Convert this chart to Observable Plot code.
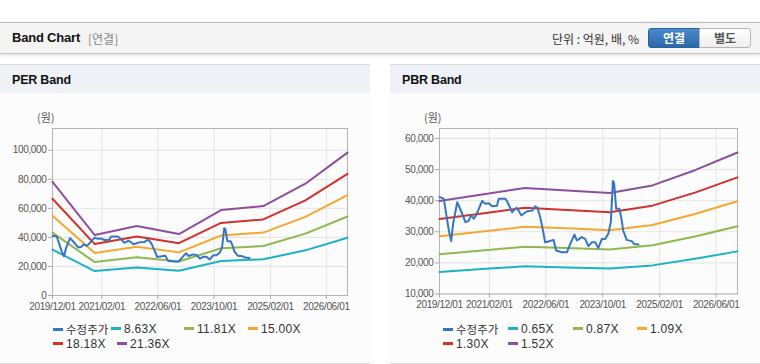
<!DOCTYPE html>
<html><head><meta charset="utf-8">
<script src="https://cdn.jsdelivr.net/npm/d3@7"></script>
<script src="https://cdn.jsdelivr.net/npm/@observablehq/plot@0.6"></script>
<style>
body{margin:0;width:760px;height:364px;position:relative;background:#fff;font-family:"Liberation Sans",Arial,"Noto Sans CJK KR",sans-serif;overflow:hidden}
.abs{position:absolute}
#hdr{left:0;top:22px;width:760px;height:30px;background:#f4f4f4;border-top:1px solid #b8b8b8;border-bottom:1px solid #c8c8c8;box-shadow:0 1px 3px rgba(0,0,0,.15)}
.ttl{font-weight:bold;font-size:13px;color:#111;letter-spacing:-0.2px;line-height:16px}
.panel{top:64px;width:370px;height:298px;border-top:1px solid #d9d9d9;border-bottom:1px solid #d9d9d9;background:#fcfcfc}
.pbar{left:0;top:0;width:100%;height:28px;background:#eef2f7}
.btn{top:28px;height:18px;width:50px;font-size:12px;font-weight:bold;text-align:center;line-height:18px;font-family:"Noto Sans CJK KR",sans-serif}
.unit{font-size:12px;color:#333;font-family:"Noto Sans CJK KR",sans-serif;line-height:16px}
.lg{font-size:12px;color:#333;line-height:14px;white-space:nowrap;letter-spacing:0.3px}
.lg .sw{display:inline-block;width:10px;height:3px;vertical-align:middle;margin-right:3px;position:relative;top:-1px}
.lg .ko{font-family:"Noto Sans CJK KR",sans-serif;font-size:11.5px;letter-spacing:0}
.ylab{font-size:11px;color:#555;font-family:"Noto Sans CJK KR",sans-serif;line-height:12px}
svg text{letter-spacing:-0.35px}
</style></head>
<body>
<div id="hdr" class="abs"></div>
<div class="abs ttl" style="left:12px;top:30px">Band Chart</div>
<div class="abs" style="left:88px;top:31px;font-size:12px;color:#888;line-height:16px;font-family:'Noto Sans CJK KR',sans-serif">[연결]</div>
<div class="abs unit" style="left:552px;top:31px">단위 : 억원, 배, %</div>
<div class="abs btn" style="left:648px;background:linear-gradient(#4a89cc,#2c67ab);border:1px solid #2a5f9c;border-radius:3px 0 0 3px;color:#fff">연결</div>
<div class="abs btn" style="left:699px;background:linear-gradient(#fff,#eee);border:1px solid #b5b5b5;border-radius:0 3px 3px 0;color:#555">별도</div>

<div class="abs panel" style="left:0"><div class="abs pbar"></div><div class="abs ttl" style="left:12px;top:7px;font-size:12.5px">PER Band</div></div>
<div class="abs panel" style="left:390px"><div class="abs pbar"></div><div class="abs ttl" style="left:12px;top:7px;font-size:12.5px">PBR Band</div></div>

<div class="abs ylab" style="left:37px;top:111px">(원)</div>
<div class="abs ylab" style="left:424px;top:111px">(원)</div>

<div id="c1" class="abs" style="left:0;top:100px"></div>
<div id="c2" class="abs" style="left:390px;top:100px"></div>
<div id="lg1"></div><div id="lg2"></div>

<script>
// ---- data ----
const xTickLabels = ["2019-12-01","2021-02-01","2022-06-01","2023-10-01","2025-02-01","2026-06-01"];
const bandDates = ["2019-12-01","2020-12-01","2021-12-01","2022-12-01","2023-12-01","2024-12-01","2025-12-01","2026-12-01"];

const perNames = ["8.63X","11.81X","15.00X","18.18X","21.36X"];
const per863  = [31600,16800,19300,17100,23800,24900,31100,39800];
const per1181 = [43300,23000,26400,23400,32500,34100,42600,54400];
const per1500 = [55000,29200,33600,29700,41300,43300,54100,69100];
const per1818 = [66600,35400,40700,36000,50000,52400,65500,83800];
const per2136 = [78300,41600,47800,42300,58800,61600,77000,98400];
const perYTicks = [0,20000,40000,60000,80000,100000];

const pbrNames = ["0.65X","0.87X","1.09X","1.30X","1.52X"];
const pbr065 = [17100,18000,18900,18500,18200,19200,21300,23700];
const pbr087 = [22800,24000,25200,24800,24300,25700,28500,31800];
const pbr109 = [28600,30100,31600,31100,30500,32200,35700,39800];
const pbr130 = [34100,35900,37700,37000,36300,38400,42600,47500];
const pbr152 = [39900,42000,44100,43300,42500,44900,49800,55500];
const pbrYTicks = [10000,20000,30000,40000,50000,60000];

const priceName = "수정주가";
const priceDates = ["2019-12-01","2020-01-07","2020-02-01","2020-02-19","2020-03-10","2020-03-27","2020-05-01","2020-06-13","2020-07-10","2020-08-07","2020-08-28","2020-09-20","2020-10-10","2020-11-02","2020-12-01","2020-12-28","2021-01-27","2021-02-25","2021-04-07","2021-04-22","2021-06-19","2021-07-07","2021-08-15","2021-08-28","2021-09-21","2021-10-10","2021-11-01","2021-11-22","2021-12-22","2022-02-03","2022-03-01","2022-03-21","2022-04-13","2022-05-07","2022-05-25","2022-06-22","2022-08-05","2022-08-28","2022-10-16","2022-11-28","2022-12-27","2023-02-01","2023-02-22","2023-04-04","2023-05-04","2023-06-01","2023-06-30","2023-07-28","2023-08-25","2023-09-24","2023-10-22","2023-11-19","2023-12-10","2023-12-28","2024-01-07","2024-01-25","2024-02-22","2024-03-13","2024-03-25","2024-04-24","2024-06-06","2024-06-26","2024-08-03"];
const priceVals = [41200,40600,34700,30400,27000,32600,39500,35800,33100,33500,35300,34200,35300,37400,39900,39000,39200,38200,38400,40600,40600,39500,36300,36800,37700,36800,35300,35800,36600,36800,38200,37700,34700,30400,26600,26900,27400,24000,23400,23400,26100,29100,27200,28300,27700,25400,26600,26600,24800,27700,27700,29400,33100,46300,45700,37400,37400,33600,30400,27400,27000,26100,25900];

// ---- styling ----
const colors = ["#1db1c6","#8fb84f","#f5a731","#d3302c","#8d4f9d"];
const priceColor = "#3575c4";

const price = priceDates.map((d,i)=>({date:new Date(d), value:priceVals[i]}));
const xTicks = xTickLabels.map(d=>new Date(d));

function chart(series, yDomain, yTicks, ml, mr, mb){
  return Plot.plot({
    width:370, height:215, marginTop:28, marginBottom:mb, marginLeft:ml, marginRight:mr,
    style:{background:"transparent", fontFamily:"Liberation Sans, Arial, sans-serif", fontSize:"10px", color:"#555", overflow:"visible"},
    x:{type:"utc", domain:[new Date(bandDates[0]), new Date(bandDates[bandDates.length-1])]},
    y:{domain:yDomain},
    marks:[
      Plot.gridX(xTicks,{stroke:"#e4e4e4", strokeOpacity:1}),
      Plot.gridY(yTicks,{stroke:"#e4e4e4", strokeOpacity:1}),
      Plot.frame({stroke:"#b4b4b4"}),
      Plot.axisX(xTicks,{tickFormat:d3.utcFormat("%Y/%m/%d"), tickSize:4, tickPadding:3, stroke:"#a8a8a8", fill:"#555", label:null}),
      Plot.axisY(yTicks,{tickFormat:d3.format(","), tickSize:4, tickPadding:2, stroke:"#a8a8a8", fill:"#555", label:null}),
      ...series.map((vals,k)=>Plot.line(bandDates.map((d,i)=>({date:new Date(d), value:vals[i]})),{x:"date", y:"value", stroke:colors[k], strokeWidth:2})),
      Plot.line(price,{x:"date", y:"value", stroke:priceColor, strokeWidth:2})
    ]
  });
}

document.getElementById("c1").append(chart([per863,per1181,per1500,per1818,per2136],[0,115000],perYTicks,52,23,20));
document.getElementById("c2").append(chart([pbr065,pbr087,pbr109,pbr130,pbr152],[10000,63200],pbrYTicks,49,23,21.5));

function legend(id, names, pos){
  const host = document.getElementById(id);
  const items = [[priceName, priceColor, true]].concat(names.map((n,i)=>[n, colors[i], false]));
  items.forEach((it,i)=>{
    const d = document.createElement("div");
    d.className = "abs lg";
    d.style.left = pos[i][0]+"px"; d.style.top = pos[i][1]+"px";
    d.innerHTML = `<span class="sw" style="background:${it[1]}"></span><span class="${it[2]?'ko':''}">${it[0]}</span>`;
    host.append(d);
  });
}
legend("lg1", perNames, [[53,322],[111,322],[184,322],[248,322],[53,337],[117,337]]);
legend("lg2", pbrNames, [[443,322],[508,322],[573,322],[637,322],[443,337],[508,337]]);
</script>
</body></html>
